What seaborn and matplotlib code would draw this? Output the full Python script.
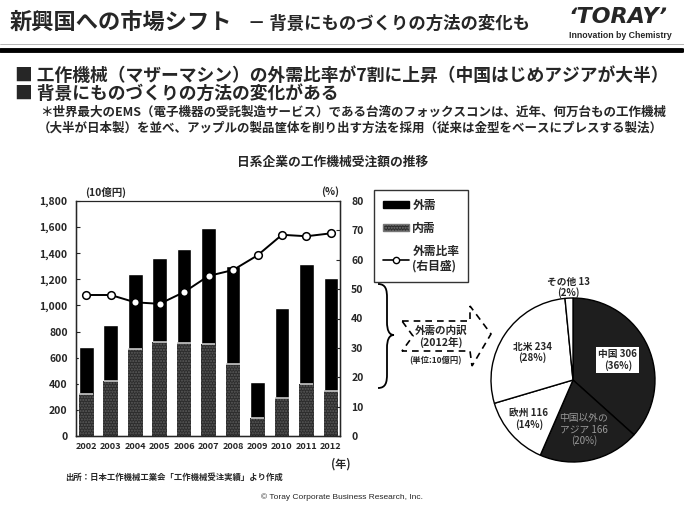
import numpy as np
import pandas as pd
import seaborn as sns
import matplotlib.pyplot as plt
from matplotlib.patches import Polygon, PathPatch, Patch
from matplotlib.lines import Line2D
from matplotlib.path import Path

# data (10億円, %)
years = ["2002", "2003", "2004", "2005", "2006", "2007", "2008", "2009", "2010", "2011", "2012"]
total = [680, 850, 1240, 1360, 1430, 1590, 1300, 410, 980, 1320, 1210]
domestic = [320, 420, 665, 720, 710, 705, 550, 140, 290, 395, 345]
ratio = [48, 48, 45.5, 45, 49, 54.5, 56.5, 61.5, 68.5, 68, 69]

pie_labels = ["中国 306\n(36%)", "中国以外の\nアジア 166\n(20%)", "欧州 116\n(14%)", "北米 234\n(28%)", "その他 13\n(2%)"]
pie_values = [306, 166, 116, 234, 13]

sns.set_style("white")
plt.rcParams["font.family"] = ["Noto Sans CJK JP", "DejaVu Sans"]

W, H = 684, 511
fig = plt.figure(figsize=(W / 100, H / 100), dpi=100)


def fx(x):
    return x / W


def fy(y):
    return 1 - y / H


def ftext(x, y, s, **kw):
    fig.text(fx(x), fy(y), s, **kw)


# header
ftext(10, 22, "新興国への市場シフト", fontsize=16, fontweight="bold", va="center")
ftext(248, 24, "－ 背景にものづくりの方法の変化も", fontsize=12.5, fontweight="bold", va="center")
ftext(618, 17, "ʻTORAYʼ", fontsize=16, fontweight="heavy", style="italic", ha="center", va="center",
      family="DejaVu Sans")
ftext(620, 36, "Innovation by Chemistry", fontsize=6.3, fontweight="bold", ha="center", va="center",
      family="Liberation Sans")
fig.add_artist(Line2D([0, 1], [fy(44), fy(44)], color="#999999", lw=0.5))
fig.add_artist(Line2D([0, fx(682)], [fy(50), fy(50)], color="black", lw=3.5))

ftext(15, 76, "■ 工作機械（マザーマシン）の外需比率が7割に上昇（中国はじめアジアが大半）",
      fontsize=12.8, fontweight="bold", va="center")
ftext(15, 94, "■ 背景にものづくりの方法の変化がある", fontsize=12.8, fontweight="bold", va="center")
ftext(40, 112, "＊世界最大のEMS（電子機器の受託製造サービス）である台湾のフォックスコンは、近年、何万台もの工作機械",
      fontsize=9.0, fontweight="bold", va="center")
ftext(38, 128, "（大半が日本製）を並べ、アップルの製品筐体を削り出す方法を採用（従来は金型をベースにプレスする製法）",
      fontsize=9.0, fontweight="bold", va="center")

ftext(333, 162, "日系企業の工作機械受注額の推移", fontsize=9.2, fontweight="bold", ha="center", va="center")

# bar + line chart
ax = fig.add_axes([fx(76), fy(436), fx(340) - fx(76), fy(201) - fy(436)])
df = pd.DataFrame({"year": years, "total": total, "domestic": domestic})
sns.barplot(data=df, x="year", y="total", color="black", saturation=1, width=0.6, ax=ax)
n_tot = len(ax.patches)
sns.barplot(data=df, x="year", y="domestic", color="#2c2c2c", saturation=1, width=0.6, ax=ax)
for p in ax.patches[n_tot:]:
    p.set_hatch("......")
    p.set_edgecolor("#5c5c5c")
    p.set_linewidth(0)
xpos = np.arange(len(years))
ax.hlines(domestic, xpos - 0.28, xpos + 0.28, color="#c8c8c8", lw=1.2)

ax.set_ylim(0, 1800)
ax.set_yticks(range(0, 1801, 200))
ax.set_yticklabels([f"{v:,}" for v in range(0, 1801, 200)])
ax.set_xlabel("")
ax.set_ylabel("")
ax.tick_params(axis="y", direction="in", length=3, labelsize=7.5, pad=6)
ax.tick_params(axis="x", length=0, labelsize=6.6, pad=4)
for lab in ax.get_xticklabels() + ax.get_yticklabels():
    lab.set_fontweight("bold")
for s in ax.spines.values():
    s.set_color("black")
    s.set_linewidth(1.0)
ax.spines["top"].set_linewidth(0.8)

ax2 = ax.twinx()
sns.lineplot(x=xpos, y=ratio, ax=ax2, color="black", lw=1.4,
             marker="o", markersize=5.5, markerfacecolor="white", markeredgecolor="black",
             markeredgewidth=1.1)
ax2.set_ylim(0, 80)
ax2.set_yticks(range(0, 81, 10))
ax2.tick_params(axis="y", direction="in", length=3, labelsize=7.5, pad=8)
for lab in ax2.get_yticklabels():
    lab.set_fontweight("bold")
ax.set_xlim(-0.42, len(years) - 1 + 0.37)
ax2.set_xlim(-0.42, len(years) - 1 + 0.37)

ftext(85, 192, "(10億円)", fontsize=7.5, fontweight="bold", va="center")
ftext(339, 192, "(%)", fontsize=7.5, fontweight="bold", ha="right", va="center")
ftext(341, 464, "(年)", fontsize=8, fontweight="bold", ha="center", va="center")

# legend
handles = [Patch(facecolor="black", edgecolor="black"),
           Patch(facecolor="#2c2c2c", edgecolor="#777777", hatch="......"),
           Line2D([], [], color="black", lw=1.2, marker="o", markersize=4.5,
                  markerfacecolor="white", markeredgecolor="black")]
leg = fig.legend(handles, ["外需", "内需", "外需比率\n(右目盛)"], loc="upper left",
                 bbox_to_anchor=(fx(374), fy(190)), frameon=True, fancybox=False,
                 prop={"size": 8.5, "weight": "bold"}, handlelength=2.2, handleheight=0.5,
                 labelspacing=0.85, borderpad=0.75, handletextpad=0.3, borderaxespad=0,
                 alignment="left")
leg.get_frame().set_edgecolor("black")
leg.get_frame().set_linewidth(1.0)

# brace
bx = [(378, 284), (386, 284), (387, 290), (387, 298), (387, 322), (387, 330), (389, 335), (394, 335),
      (389, 335), (387, 340), (387, 348), (387, 374), (387, 382), (386, 388), (378, 388)]
codes = [Path.MOVETO, Path.CURVE4, Path.CURVE4, Path.CURVE4, Path.LINETO, Path.CURVE4, Path.CURVE4,
         Path.CURVE4, Path.CURVE4, Path.CURVE4, Path.CURVE4, Path.LINETO, Path.CURVE4, Path.CURVE4,
         Path.CURVE4]
fig.add_artist(PathPatch(Path([(fx(x), fy(y)) for x, y in bx], codes), transform=fig.transFigure,
                         fill=False, lw=1.3, color="black"))

# dashed chevron arrow
chev = [(402, 321), (470, 321), (470, 306), (491, 334), (472, 366), (470, 351), (402, 351), (413, 336)]
fig.add_artist(Polygon([(fx(x), fy(y)) for x, y in chev], closed=True, transform=fig.transFigure,
                       fill=False, lw=1.2, ls=(0, (4, 3)), color="black"))
ftext(441, 337, "外需の内訳\n(2012年)", fontsize=7.6, fontweight="bold", ha="center", va="center",
      linespacing=1.05)
ftext(436, 361, "(単位:10億円)", fontsize=6.0, fontweight="bold", ha="center", va="center")

# pie
r = 82
pax = fig.add_axes([fx(573 - r), fy(380 + r), 2 * r / W, 2 * r / H])
wedges, _ = pax.pie(pie_values, colors=["#1e1e1e", "#1e1e1e", "white", "white", "white"],
                    startangle=90, counterclock=False,
                    wedgeprops={"edgecolor": "black", "linewidth": 1.0})
pax.set_xlim(-1, 1)
pax.set_ylim(-1, 1)
pax.set_aspect("equal")
label_r = [0.6, 0.62, 0.72, 0.6, 1.13]
for i, (w, lab, rr) in enumerate(zip(wedges, pie_labels, label_r)):
    ang = np.deg2rad((w.theta1 + w.theta2) / 2)
    x, y = rr * np.cos(ang), rr * np.sin(ang)
    if i == 0:
        pax.text(x, y, lab, ha="center", va="center", fontsize=7, fontweight="bold",
                 bbox={"facecolor": "white", "edgecolor": "none", "pad": 1.5})
    elif i == 1:
        pax.text(x, y, lab, ha="center", va="center", fontsize=7, color="#9a9a9a", linespacing=1.1)
    else:
        pax.text(x, y, lab, ha="center", va="center", fontsize=7, fontweight="bold", linespacing=1.1)

# footer
ftext(65, 477, "出所：日本工作機械工業会「工作機械受注実績」より作成", fontsize=6, fontweight="bold", va="center")
ftext(342, 497, "© Toray Corporate Business Research, Inc.", fontsize=6, ha="center", va="center",
      family="Liberation Sans")

fig.savefig("out.png", dpi=100)
